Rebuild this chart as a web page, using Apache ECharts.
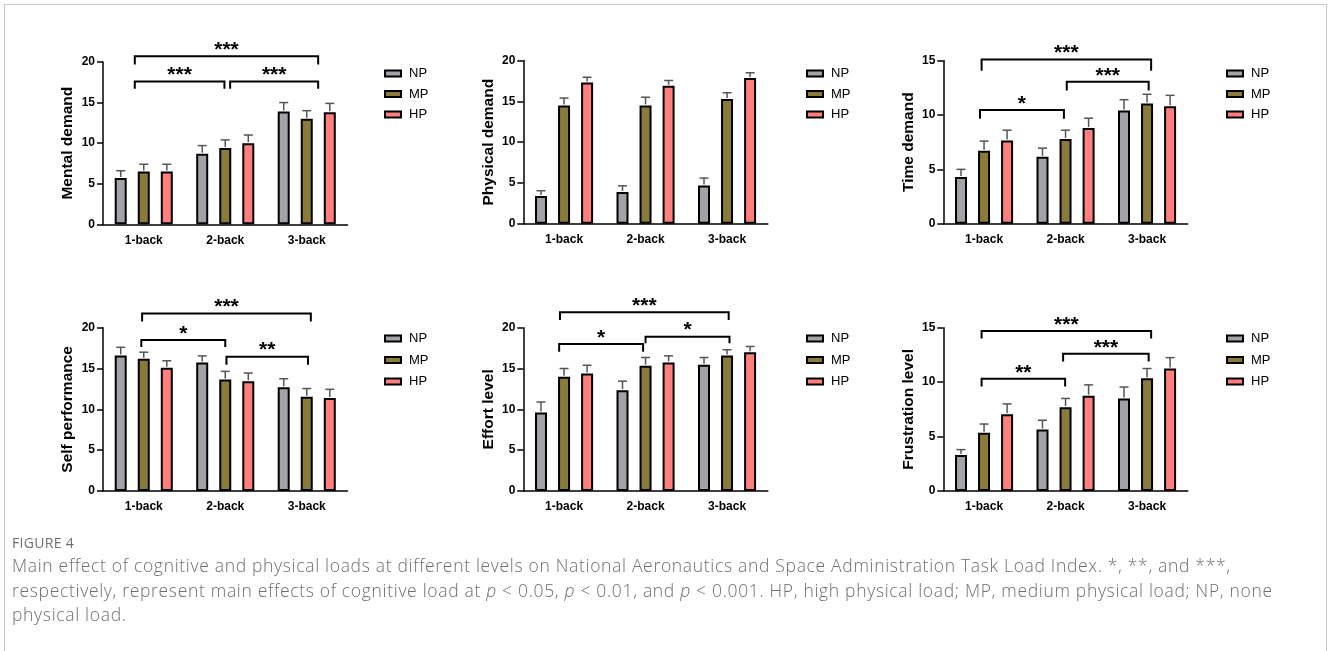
<!DOCTYPE html>
<html><head><meta charset="utf-8">
<script src="https://cdn.jsdelivr.net/npm/echarts@6/dist/echarts.min.js"></script>
<style>
html,body{margin:0;padding:0;background:#fff;width:1328px;height:651px;overflow:hidden;}
#chart{position:absolute;left:0;top:0;width:1328px;height:651px;}
#frame{position:absolute;left:4px;top:4px;width:1321px;height:700px;border:1px solid #c8c8c8;border-bottom:none;pointer-events:none;}
#cap{position:absolute;left:12px;top:533px;width:1310px;font-family:'Open Sans',sans-serif;color:#6e6e6e;white-space:nowrap;}
.fig{font-size:14px;line-height:20px;letter-spacing:0.3px;}
.txt{font-size:17.5px;font-weight:300;line-height:24.5px;letter-spacing:0.68px;}
</style></head>
<body>
<div id="chart"></div>
<div id="frame"></div>
<div id="cap">
<div class="fig">FIGURE 4</div>
<div class="txt">Main effect of cognitive and physical loads at different levels on National Aeronautics and Space Administration Task Load Index. *, **, and ***,<br>respectively, represent main effects of cognitive load at <i>p</i> &lt; 0.05, <i>p</i> &lt; 0.01, and <i>p</i> &lt; 0.001. HP, high physical load; MP, medium physical load; NP, none<br>physical load.</div>
</div>
<script>
// ---- data ----
const categories = ['1-back', '2-back', '3-back'];
const groups = ['NP', 'MP', 'HP'];
const yTitles = ['Mental demand', 'Physical demand', 'Time demand', 'Self performance', 'Effort level', 'Frustration level'];
const yMax = [20, 20, 15, 20, 20, 15];

// means: rows NP, MP, HP; columns 1-back, 2-back, 3-back
const mentalMean = [[5.7, 8.7, 13.9], [6.5, 9.4, 13.0], [6.5, 10.0, 13.8]];
const mentalErr = [[0.9, 1.0, 1.1], [0.9, 1.0, 1.0], [0.9, 1.0, 1.1]];
const physicalMean = [[3.4, 3.9, 4.7], [14.5, 14.5, 15.3], [17.3, 16.9, 17.85]];
const physicalErr = [[0.65, 0.75, 0.9], [0.9, 1.0, 0.75], [0.65, 0.65, 0.65]];
const timeMean = [[4.3, 6.15, 10.4], [6.7, 7.8, 11.05], [7.65, 8.8, 10.8]];
const timeErr = [[0.7, 0.8, 1.0], [0.9, 0.8, 0.85], [0.95, 0.9, 1.0]];
const selfMean = [[16.6, 15.75, 12.7], [16.2, 13.65, 11.55], [15.1, 13.45, 11.4]];
const selfErr = [[1.0, 0.8, 1.05], [0.8, 1.0, 1.0], [0.85, 1.0, 1.05]];
const effortMean = [[9.6, 12.35, 15.45], [14.0, 15.35, 16.6], [14.4, 15.75, 17.0]];
const effortErr = [[1.3, 1.1, 0.9], [1.0, 1.0, 0.7], [1.0, 0.8, 0.7]];
const frustMean = [[3.3, 5.65, 8.5], [5.35, 7.7, 10.35], [7.05, 8.75, 11.25]];
const frustErr = [[0.5, 0.85, 1.05], [0.8, 0.8, 0.9], [0.95, 1.0, 1.0]];

// significance brackets: x in category units, y = bar level, leg = leg bottom
const mentalSig = [
  {x1: -0.11, x2: 2.14, y: 20.7, leg: 19.7, label: '***'},
  {x1: -0.11, x2: 0.99, y: 17.6, leg: 16.7, label: '***'},
  {x1: 1.06, x2: 2.14, y: 17.6, leg: 16.7, label: '***'}
];
const physicalSig = [];
const timeSig = [
  {x1: -0.03, x2: 2.05, y: 15.1, leg: 14.05, label: '***'},
  {x1: 1.015, x2: 2.02, y: 13.05, leg: 12.25, label: '***'},
  {x1: -0.05, x2: 0.98, y: 10.45, leg: 9.65, label: '*'}
];
const selfSig = [
  {x1: -0.02, x2: 2.05, y: 21.75, leg: 20.75, label: '***'},
  {x1: -0.03, x2: 1.0, y: 18.5, leg: 17.65, label: '*'},
  {x1: 1.015, x2: 2.015, y: 16.45, leg: 15.45, label: '**'}
];
const effortSig = [
  {x1: -0.05, x2: 2.02, y: 21.9, leg: 20.95, label: '***'},
  {x1: -0.06, x2: 0.97, y: 18.0, leg: 17.05, label: '*'},
  {x1: 1.0, x2: 2.03, y: 18.9, leg: 18.1, label: '*'}
];
const frustSig = [
  {x1: -0.03, x2: 2.05, y: 14.7, leg: 14.0, label: '***'},
  {x1: 0.97, x2: 2.02, y: 12.6, leg: 11.9, label: '***'},
  {x1: -0.03, x2: 0.995, y: 10.3, leg: 9.6, label: '**'}
];

const allMeans = [mentalMean, physicalMean, timeMean, selfMean, effortMean, frustMean];
const allErrs = [mentalErr, physicalErr, timeErr, selfErr, effortErr, frustErr];
const allSigs = [mentalSig, physicalSig, timeSig, selfSig, effortSig, frustSig];

// ---- layout / style ----
const colors = ['#a3a2a9', '#8b7b3b', '#ff7f7f'];
const FONT = 'Arial, "Liberation Sans", sans-serif';
const colLeft = [103, 523.3, 943.3];
const gridTop = [62, 60.5, 60.5, 327.7, 327.7, 327.7];
const gridH = [162.3, 163.3, 163.3, 163.3, 163.3, 163.3];
const legendLeft = [384, 806, 1226];
const legendTop = [67, 332];
const legendGap = [7.5, 8.5];
const BAR_W = 12, BAR_GAP = 0.92;
const step = BAR_W * (1 + BAR_GAP);

const option = {animation: false, grid: [], xAxis: [], yAxis: [], legend: [], series: []};

for (let p = 0; p < 6; p++) {
  const col = p % 3, row = Math.floor(p / 3);
  option.grid.push({left: colLeft[col], top: gridTop[p], width: 244.5, height: gridH[p], containLabel: false});
  option.xAxis.push({
    type: 'category', gridIndex: p, data: categories,
    axisLine: {onZero: false, lineStyle: {color: '#000', width: 1.5}},
    axisTick: {alignWithLabel: true, length: 5, lineStyle: {color: '#000', width: 1.5}},
    axisLabel: {fontSize: 12, fontWeight: 'bold', color: '#000', fontFamily: FONT, margin: 10},
    splitLine: {show: false}
  });
  option.xAxis.push({type: 'value', gridIndex: p, min: -0.5, max: 2.5, show: false,
    axisLine: {show: false, onZero: false}, splitLine: {show: false}});
  option.yAxis.push({
    type: 'value', gridIndex: p, min: 0, max: yMax[p], interval: 5,
    name: yTitles[p], nameLocation: 'middle', nameGap: 27,
    nameTextStyle: {fontSize: 15.5, fontWeight: 'bold', color: '#000', fontFamily: FONT},
    axisLine: {show: true, onZero: false, lineStyle: {color: '#000', width: 1.5}},
    axisTick: {show: true, length: 6, lineStyle: {color: '#000', width: 1.5}},
    axisLabel: {fontSize: 12, fontWeight: 'bold', color: '#000', fontFamily: FONT, margin: 8},
    splitLine: {show: false}
  });
  option.legend.push({
    orient: 'vertical', left: legendLeft[col], top: legendTop[row], padding: 0,
    data: groups, icon: 'rect', itemWidth: 16, itemHeight: 6, itemGap: legendGap[row],
    selectedMode: false,
    textStyle: {fontSize: 13, color: '#000', fontFamily: FONT, padding: [0, 0, 0, 3]}
  });
  for (let k = 0; k < 3; k++) {
    option.series.push({
      type: 'bar', name: groups[k], xAxisIndex: 2 * p, yAxisIndex: p,
      data: allMeans[p][k], barWidth: BAR_W, barGap: (BAR_GAP * 100) + '%',
      itemStyle: {color: colors[k], borderColor: '#000', borderWidth: 2},
      z: 2
    });
  }
  for (let k = 0; k < 3; k++) {
    const off = (k - 1) * step;
    option.series.push({
      type: 'custom', xAxisIndex: 2 * p, yAxisIndex: p, z: 3, clip: false,
      data: allMeans[p][k].map((m, i) => [i, m, m + allErrs[p][k][i]]),
      renderItem: function (params, api) {
        const b = api.coord([api.value(0), api.value(1)]);
        const t = api.coord([api.value(0), api.value(2)]);
        const x = b[0] + off;
        return {type: 'group', children: [
          {type: 'line', shape: {x1: x, y1: b[1] - 1, x2: x, y2: t[1]}, style: {stroke: '#555', lineWidth: 1.5}},
          {type: 'line', shape: {x1: x - 4.5, y1: t[1], x2: x + 4.5, y2: t[1]}, style: {stroke: '#555', lineWidth: 1.5}}
        ]};
      }
    });
  }
  const sig = allSigs[p];
  if (sig.length) {
    option.series.push({
      type: 'custom', xAxisIndex: 2 * p + 1, yAxisIndex: p, z: 4, clip: false,
      data: sig.map(s => [s.x1, s.x2, s.y, s.leg]),
      renderItem: function (params, api) {
        const s = sig[params.dataIndex];
        const a = api.coord([api.value(0), api.value(2)]);
        const c = api.coord([api.value(1), api.value(2)]);
        const legY = api.coord([api.value(0), api.value(3)])[1];
        return {type: 'group', children: [
          {type: 'polyline', shape: {points: [[a[0], legY], [a[0], a[1]], [c[0], c[1]], [c[0], legY]]},
           style: {stroke: '#000', lineWidth: 2, fill: null}},
          {type: 'text', style: {x: (a[0] + c[0]) / 2, y: a[1] - 6, text: s.label,
            font: 'bold 21px ' + FONT, align: 'center', verticalAlign: 'middle', fill: '#000'}}
        ]};
      }
    });
  }
}

const chart = echarts.init(document.getElementById('chart'), null, {renderer: 'canvas'});
chart.setOption(option);
</script>
</body></html>
